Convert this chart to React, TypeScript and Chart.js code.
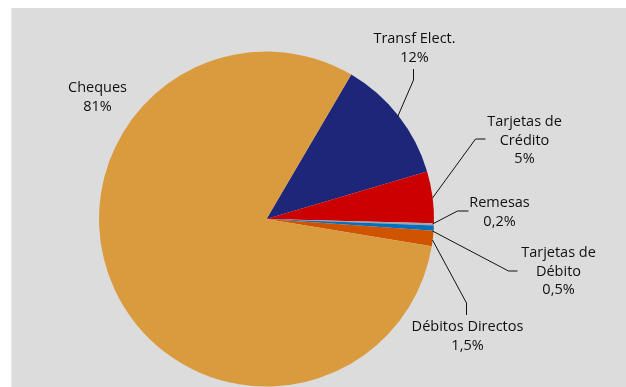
import React, { useEffect, useRef } from "react";
import { Chart, registerables } from "chart.js";

Chart.register(...registerables);

const categories = ["Transf Elect.", "Tarjetas de Crédito", "Remesas", "Tarjetas de Débito", "Débitos Directos", "Cheques"];
const labelLines = [["Transf Elect."], ["Tarjetas de", "Crédito"], ["Remesas"], ["Tarjetas de", "Débito"], ["Débitos Directos"], ["Cheques"]];
const shares = [12, 5, 0.2, 0.5, 1.5, 81];
const colors = ["#1D2678", "#CC0000", "#A5A5A5", "#0070C0", "#D05300", "#D99B3E"];

// label anchor (first line centre) relative to pie centre
const labelOffsets = [[148, -180], [258, -97], [233, -16], [292, 34], [201, 108], [-169, -131]];
// leader polylines relative to pie centre
const leaders = [
  [[147, -150], [147, -139], [131, -102]],
  [[219, -80], [209, -80], [166, -21]],
  [[202, -8], [191, -8], [166, 5]],
  [[166, 12], [242, 52], [251, 52]],
  [[166, 21], [200, 84], [200, 96]],
  [],
];

const fmt = (v: number) => String(v).replace(".", ",") + "%";

const labelPlugin = {
  id: "pieLabels",
  afterDatasetsDraw(chart: any) {
    const ctx = chart.ctx;
    const meta = chart.getDatasetMeta(0);
    const arc0 = meta.data[0];
    const cx = arc0.x;
    const cy = arc0.y;
    ctx.save();
    ctx.strokeStyle = "#111111";
    ctx.lineWidth = 1;
    leaders.forEach((pts) => {
      if (!pts.length) return;
      ctx.beginPath();
      pts.forEach((p, i) => {
        const x = cx + p[0];
        const y = cy + p[1];
        if (i === 0) ctx.moveTo(x, y);
        else ctx.lineTo(x, y);
      });
      ctx.stroke();
    });
    ctx.fillStyle = "#111111";
    ctx.font = "14.5px 'Open Sans'";
    ctx.textAlign = "center";
    ctx.textBaseline = "middle";
    categories.forEach((_, i) => {
      const lines = [...labelLines[i], fmt(shares[i])];
      const [ox, oy] = labelOffsets[i];
      lines.forEach((t, j) => {
        ctx.fillText(t, cx + ox, cy + oy + j * 18.5);
      });
    });
    ctx.restore();
  },
};

export default function App() {
  const ref = useRef<HTMLCanvasElement>(null);
  useEffect(() => {
    if (!ref.current) return;
    const chart = new Chart(ref.current, {
      type: "pie",
      data: {
        labels: categories,
        datasets: [
          {
            data: shares,
            backgroundColor: colors,
            borderWidth: 0,
            hoverOffset: 0,
          },
        ],
      },
      options: {
        responsive: false,
        animation: false,
        rotation: 30.4,
        layout: { padding: { left: 87, top: 43, right: 192, bottom: 0 } },
        plugins: {
          legend: { display: false },
          tooltip: { enabled: false },
        },
      },
      plugins: [labelPlugin],
    });
    return () => chart.destroy();
  }, []);
  return (
    <div
      style={{
        position: "fixed",
        left: 11,
        top: 8,
        width: 615,
        height: 379,
        background: "#DCDCDC",
        borderLeft: "1px solid #e8e8e8",
        boxSizing: "border-box",
      }}
    >
      <canvas ref={ref} width={614} height={379} style={{ display: "block" }} />
    </div>
  );
}
